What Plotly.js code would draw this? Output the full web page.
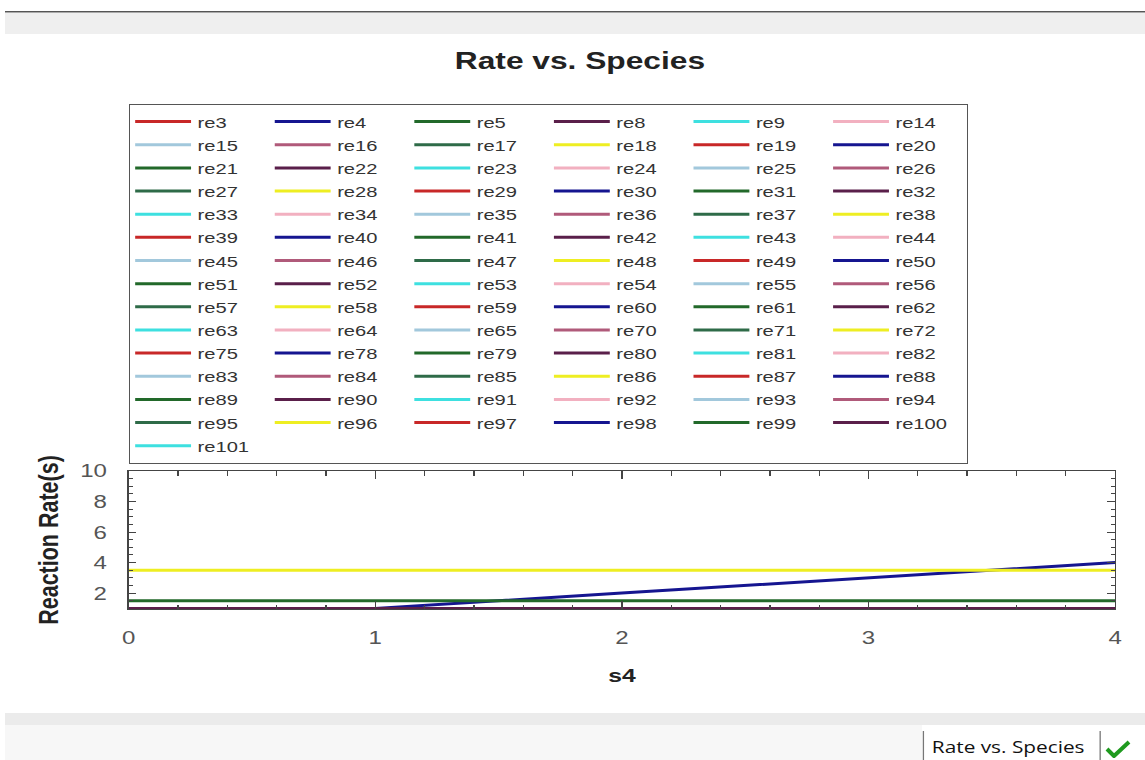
<!DOCTYPE html>
<html>
<head>
<meta charset="utf-8">
<script src="https://cdn.plot.ly/plotly-3.0.1.min.js"></script>
<style>
  html, body { margin: 0; padding: 0; }
  body { width: 1145px; height: 760px; overflow: hidden; background: #ffffff; position: relative; font-family: "Liberation Sans", Arial, sans-serif; }
  .band { position: absolute; }
  #wrap { position: absolute; left: 0; top: 0; width: 881px; height: 760px; transform: scaleX(1.29966); transform-origin: 0 0; }
  #chart { position: absolute; left: 0; top: 0; width: 881px; height: 760px; }
  #tabText { position: absolute; left: 717px; top: 736px; font-family: "Open Sans", "Noto Sans", sans-serif; font-size: 16px; color: #111; white-space: nowrap; }
  .sep { position: absolute; width: 1px; background: #777; }
</style>
</head>
<body>
<div class="band" style="left:5px; top:11px; width:1140px; height:1px; background:#555;"></div>
<div class="band" style="left:5px; top:12px; width:1140px; height:1px; background:#aaa;"></div>
<div class="band" style="left:5px; top:13px; width:1140px; height:21px; background:#efefef;"></div>
<div class="band" style="left:5px; top:713px; width:1140px; height:12px; background:#ebebeb;"></div>
<div class="band" style="left:5px; top:725px; width:917px; height:35px; background:#f7f7f7;"></div>
<div id="wrap">
  <div id="chart"></div>
  <div class="sep" style="left:710px; top:731px; height:29px;"></div>
  <div id="tabText">Rate vs. Species</div>
  <div class="sep" style="left:846px; top:731px; height:29px;"></div>
</div>
<svg style="position:absolute; left:1104px; top:739px;" width="28" height="20" viewBox="0 0 28 20">
  <polyline points="3,10 10,17 25,3" fill="none" stroke="#1f9a1f" stroke-width="4" stroke-linejoin="round"/>
</svg>
<script>
// ---- data ----
const s4 = [0, 1, 2, 3, 4];

const reactionNames = [
  're3','re4','re5','re8','re9','re14',
  're15','re16','re17','re18','re19','re20',
  're21','re22','re23','re24','re25','re26',
  're27','re28','re29','re30','re31','re32',
  're33','re34','re35','re36','re37','re38',
  're39','re40','re41','re42','re43','re44',
  're45','re46','re47','re48','re49','re50',
  're51','re52','re53','re54','re55','re56',
  're57','re58','re59','re60','re61','re62',
  're63','re64','re65','re70','re71','re72',
  're75','re78','re79','re80','re81','re82',
  're83','re84','re85','re86','re87','re88',
  're89','re90','re91','re92','re93','re94',
  're95','re96','re97','re98','re99','re100',
  're101'
];

const rateRe4 = [1, 1, 2, 3, 4];
const rateRe5 = [1.5, 1.5, 1.5, 1.5, 1.5];
const rateRe18 = [3.5, 3.5, 3.5, 3.5, 3.5];
const rateAtOne = [1, 1, 1, 1, 1];
const rateBelowRange = [0, 0, 0, 0, 0];

const seriesByName = {
  re3: rateAtOne,
  re4: rateRe4,
  re5: rateRe5,
  re8: rateAtOne,
  re18: rateRe18
};

const xTickVals = [0, 1, 2, 3, 4];
const yTickVals = [2, 4, 6, 8, 10];

// ---- styles ----
const palette = ['#c82828', '#151590', '#22692a', '#5a1f4a', '#3ee0e0',
                 '#f2b0c0', '#a2c8dc', '#b05a7a', '#2e6b48', '#eeee22'];
const FONT = '"Liberation Sans", Arial, sans-serif';
const NCOLS = 6;

const traces = reactionNames.map((name, i) => ({
  type: 'scatter',
  mode: 'lines',
  name: name,
  x: s4,
  y: seriesByName[name] || rateBelowRange,
  line: { color: palette[i % palette.length], width: 3 },
  legendgroup: 'col' + (i % NCOLS),
  hoverinfo: 'skip'
}));

// plotting area spans y 100..609; the axes occupy only the bottom 138 px of it
const Y_DOMAIN_TOP = 138 / 509;

const layout = {
  width: 881,
  height: 760,
  margin: { l: 99, r: 23, t: 100, b: 151, autoexpand: false },
  paper_bgcolor: 'rgba(0,0,0,0)',
  plot_bgcolor: 'rgba(0,0,0,0)',
  showlegend: true,
  title: {
    text: 'Rate vs. Species',
    font: { family: FONT, size: 24.4, color: '#222', weight: 'bold' },
    xref: 'container', x: 0.5065, xanchor: 'center',
    yref: 'container', y: 0.921, yanchor: 'middle'
  },
  legend: {
    orientation: 'h',
    traceorder: 'grouped',
    x: 0, xanchor: 'left',
    y: 0.9921, yanchor: 'top',
    bgcolor: '#ffffff',
    bordercolor: '#555',
    borderwidth: 1,
    font: { family: FONT, size: 15.5, color: '#333' },
    itemwidth: 43,
    entrywidth: 49.4,
    entrywidthmode: 'pixels',
    tracegroupgap: 0
  },
  xaxis: {
    range: [0, 4],
    tickmode: 'array', tickvals: xTickVals,
    ticks: 'inside', ticklen: 8, tickcolor: '#444',
    minor: { tickmode: 'linear', tick0: 0, dtick: 0.2, ticks: 'inside', ticklen: 4.5, tickcolor: '#444', showgrid: false },
    showline: true, linecolor: '#444', linewidth: 1, mirror: 'ticks',
    showgrid: false, zeroline: false,
    tickfont: { family: FONT, size: 18.5, color: '#555' },
    ticklabelstandoff: 12,
    title: { text: 's4', font: { family: FONT, size: 19, color: '#222', weight: 'bold' }, standoff: 21 }
  },
  yaxis: {
    domain: [0, Y_DOMAIN_TOP],
    range: [0.96, 10],
    tickmode: 'array', tickvals: yTickVals,
    ticks: 'inside', ticklen: 6, tickcolor: '#444',
    minor: { tickmode: 'linear', tick0: 0, dtick: 0.5, ticks: 'inside', ticklen: 3.5, tickcolor: '#444', showgrid: false },
    showline: true, linecolor: '#444', linewidth: 1, mirror: 'ticks',
    showgrid: false, zeroline: false,
    tickfont: { family: FONT, size: 18.5, color: '#555' },
    ticklabelstandoff: 12,
    title: { text: 'Reaction Rate(s)', font: { family: FONT, size: 21.5, color: '#222', weight: 'bold' }, standoff: 10 }
  },
  xaxis2: {
    overlaying: 'x', anchor: 'y', side: 'bottom',
    range: [0, 4],
    tickmode: 'array', tickvals: xTickVals,
    ticks: 'outside', ticklen: 7, tickcolor: '#444',
    minor: { tickmode: 'linear', tick0: 0, dtick: 0.2, ticks: 'outside', ticklen: 3.5, tickcolor: '#444', showgrid: false },
    showticklabels: false, showline: false, showgrid: false, zeroline: false
  },
  yaxis2: {
    overlaying: 'y', anchor: 'x', side: 'left',
    range: [0.96, 10],
    tickmode: 'array', tickvals: yTickVals,
    ticks: 'outside', ticklen: 5.5, tickcolor: '#444',
    minor: { tickmode: 'linear', tick0: 0, dtick: 0.5, ticks: 'outside', ticklen: 3, tickcolor: '#444', showgrid: false },
    showticklabels: false, showline: false, showgrid: false, zeroline: false
  }
};

Plotly.newPlot('chart', traces, layout, { staticPlot: true, displayModeBar: false });
</script>
</body>
</html>
